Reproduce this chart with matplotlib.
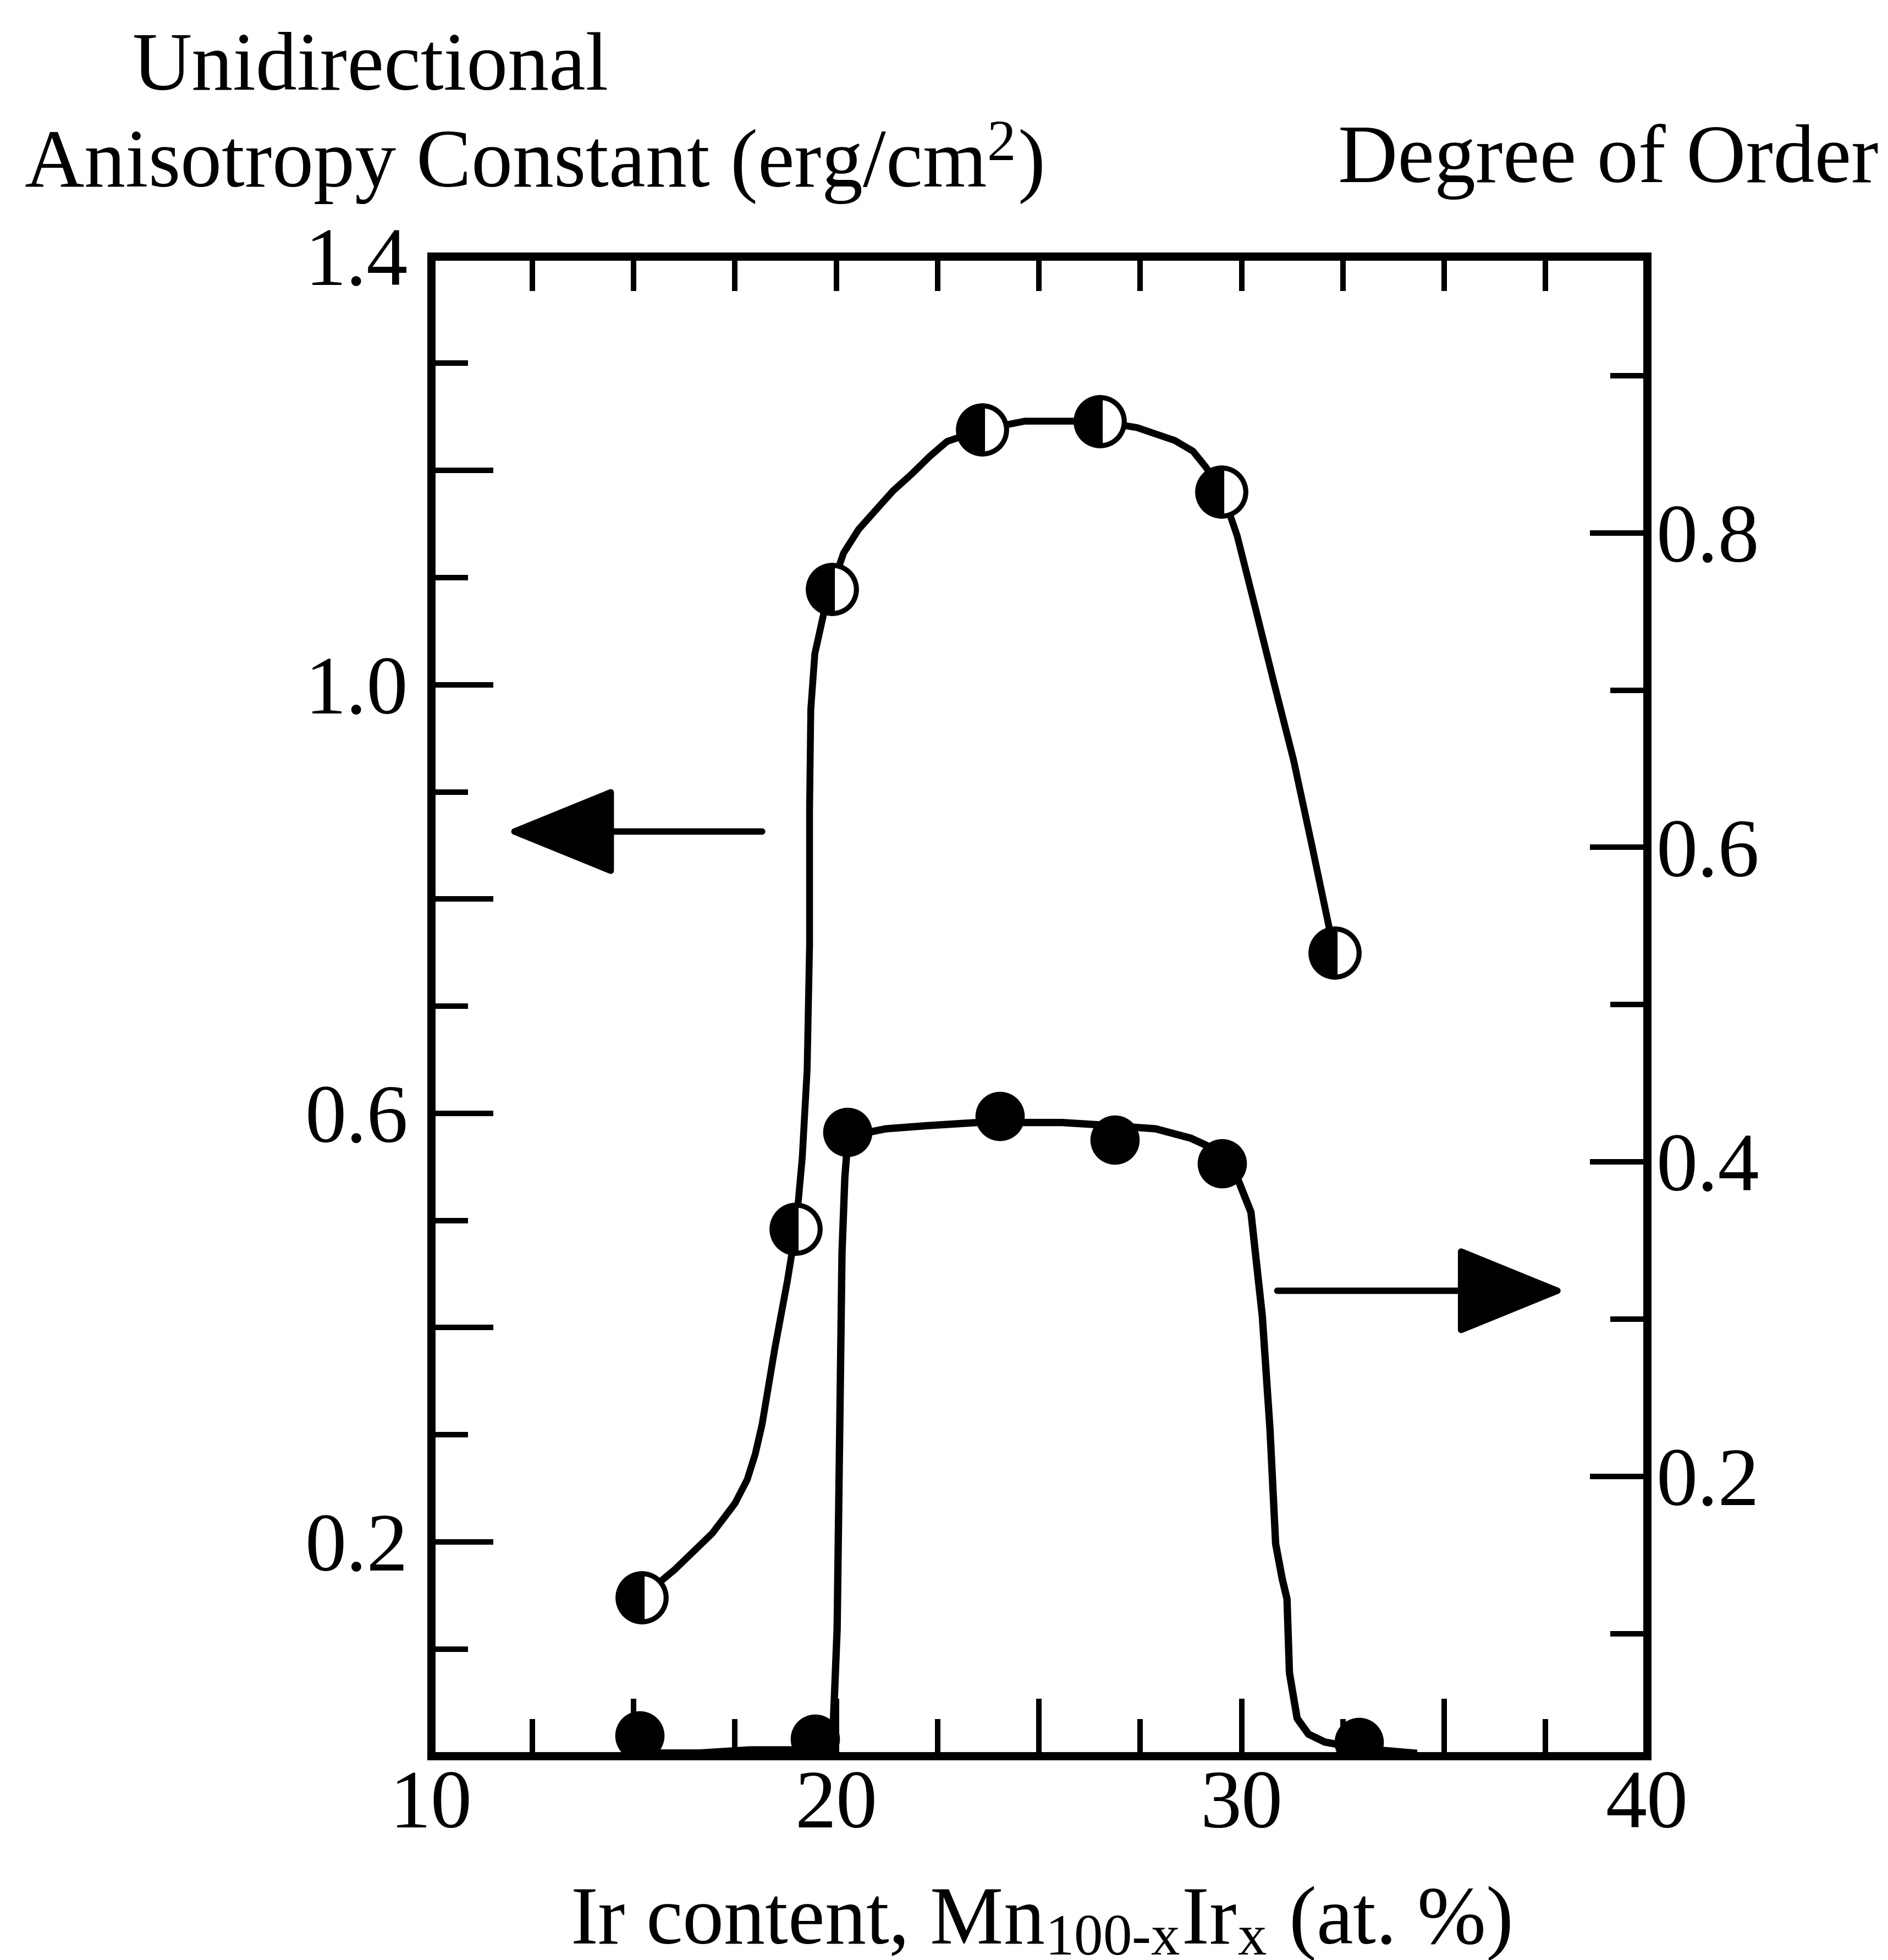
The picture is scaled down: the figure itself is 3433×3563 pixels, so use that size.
"""
Unidirectional anisotropy constant and degree of order vs Ir content
in Mn(100-x)Ir(x) films.
"""
import numpy as np
import matplotlib
matplotlib.use("Agg")
import matplotlib.pyplot as plt

# ---- data ----
# unidirectional anisotropy constant (erg/cm^2), half-filled circles, left axis
jk_x = [15.2, 19.0, 19.9, 23.6, 26.5, 29.5, 32.3]
jk_y = [0.148, 0.492, 1.089, 1.238, 1.246, 1.180, 0.750]
# hand-drawn guide line through them
jk_line_x = [15.18, 16.01, 16.94, 17.50, 17.80, 18.00, 18.17, 18.48, 18.79, 19.00,
             19.16, 19.28, 19.34, 19.34, 19.37, 19.47, 19.71, 19.87, 20.18, 20.55,
             20.95, 21.40, 21.87, 22.30, 22.73, 23.57, 24.65, 26.44, 27.42, 28.35,
             28.80, 29.12, 29.52, 29.89, 30.35, 30.81, 31.28, 31.74, 32.29]
jk_line_y = [0.148, 0.174, 0.208, 0.236, 0.258, 0.282, 0.310, 0.380, 0.443, 0.492,
             0.559, 0.641, 0.757, 0.884, 0.977, 1.029, 1.070, 1.089, 1.123, 1.145,
             1.162, 1.181, 1.197, 1.213, 1.227, 1.238, 1.246, 1.246, 1.240, 1.228,
             1.218, 1.203, 1.180, 1.139, 1.070, 1.000, 0.930, 0.849, 0.750]

# degree of order, filled circles, right axis
order_x = [15.15, 19.47, 20.27, 24.03, 26.87, 29.52, 32.9]
order_y = [0.035, 0.033, 0.419, 0.429, 0.414, 0.399, 0.031]
order_line_x = [15.15, 16.63, 17.86, 19.10, 19.71, 19.93, 20.02, 20.08, 20.14, 20.21,
                20.27, 20.64, 21.22, 22.24, 23.48, 25.57, 26.81, 27.88, 28.75, 29.42,
                29.70, 29.89, 30.23, 30.51, 30.70, 30.84, 31.00, 31.12, 31.18, 31.37,
                31.65, 32.05, 32.88, 34.24]
order_line_y = [0.024, 0.024, 0.026, 0.026, 0.030, 0.045, 0.103, 0.222, 0.342, 0.390,
                0.410, 0.418, 0.421, 0.423, 0.425, 0.425, 0.423, 0.421, 0.415, 0.407,
                0.400, 0.390, 0.368, 0.302, 0.230, 0.157, 0.135, 0.122, 0.075, 0.046,
                0.036, 0.031, 0.027, 0.024]

# ticks
x_major = [10, 15, 20, 25, 30, 35, 40]
x_labels = ["10", "", "20", "", "30", "", "40"]
x_minor = [12.5, 17.5, 22.5, 27.5, 32.5, 37.5]
x_top = [12.5, 15, 17.5, 20, 22.5, 25, 27.5, 30, 32.5, 35, 37.5]
left_major = [0.0, 0.2, 0.4, 0.6, 0.8, 1.0, 1.2, 1.4]
left_labels = ["", "0.2", "", "0.6", "", "1.0", "", "1.4"]
left_minor = [0.1, 0.3, 0.5, 0.7, 0.9, 1.1, 1.3]
right_major = [0.2, 0.4, 0.6, 0.8]
right_labels = ["0.2", "0.4", "0.6", "0.8"]
right_minor = [0.1, 0.3, 0.5, 0.7, 0.9]

plt.rcParams["font.family"] = ["Liberation Serif", "DejaVu Serif"]
plt.rcParams["mathtext.fontset"] = "custom"
plt.rcParams["mathtext.rm"] = "Liberation Serif"
plt.rcParams["mathtext.it"] = "Liberation Serif:italic"
FS = 36

fig = plt.figure(figsize=(3433 / 300, 3563 / 300), dpi=300)
ax = fig.add_axes([0.2283, 0.104, 0.644, 0.7653])
ax2 = ax.twinx()

ax.set_xlim(10, 40)
ax.set_ylim(0, 1.4)
ax2.set_ylim(0.022, 0.976)

for a in (ax, ax2):
    for s in a.spines.values():
        s.set_linewidth(3.5)

# curves
ax.plot(jk_line_x, jk_line_y, color="black", lw=3.0, zorder=2,
        solid_joinstyle="round")
ax.plot(jk_x, jk_y, ls="none", marker="o", ms=21, fillstyle="left",
        markerfacecolor="black", markerfacecoloralt="white",
        markeredgecolor="black", markeredgewidth=2.2, zorder=3)
ax2.plot(order_line_x, order_line_y, color="black", lw=3.2, zorder=2,
         solid_joinstyle="round")
ax2.plot(order_x, order_y, ls="none", marker="o", ms=20.5,
         color="black", zorder=3)

# arrows
ax.annotate("", xy=(11.85, 0.863), xytext=(18.17, 0.863),
            arrowprops=dict(arrowstyle="-|>,head_length=1.4,head_width=0.57",
                            mutation_scale=30, lw=2.8, color="black",
                            shrinkA=0, shrinkB=0))
ax2.annotate("", xy=(38.0, 0.318), xytext=(30.88, 0.318),
             arrowprops=dict(arrowstyle="-|>,head_length=1.4,head_width=0.57",
                             mutation_scale=30, lw=2.8, color="black",
                             shrinkA=0, shrinkB=0))

# x ticks
ax.set_xticks(x_major)
ax.set_xticklabels(x_labels, fontsize=FS)
ax.set_xticks(x_minor, minor=True)
ax.tick_params(axis="x", which="major", direction="in", length=25, width=2.4,
               pad=6, top=False)
ax.tick_params(axis="x", which="minor", direction="in", length=16, width=2.4,
               top=False)
top = ax.secondary_xaxis("top")
top.set_xticks(x_top)
top.tick_params(direction="in", length=15, width=2.4, labeltop=False)
top.spines["top"].set_linewidth(3.5)

# left y ticks
ax.set_yticks(left_major)
ax.set_yticklabels(left_labels, fontsize=FS)
ax.set_yticks(left_minor, minor=True)
ax.tick_params(axis="y", which="major", direction="in", length=27, width=2.4,
               pad=10, right=False)
ax.tick_params(axis="y", which="minor", direction="in", length=16, width=2.4,
               right=False)

# right y ticks
ax2.set_yticks(right_major)
ax2.set_yticklabels(right_labels, fontsize=FS)
ax2.set_yticks(right_minor, minor=True)
ax2.tick_params(axis="y", which="major", direction="in", length=25, width=2.4, pad=4)
ax2.tick_params(axis="y", which="minor", direction="in", length=16, width=2.4)

# axis titles
fig.text(0.0702, 0.9543, "Unidirectional", fontsize=FS, ha="left", va="baseline")
fig.text(0.0128, 0.905, "Anisotropy Constant (erg/cm$^{2}$)", fontsize=FS,
         ha="left", va="baseline")
fig.text(0.995, 0.907, "Degree of Order", fontsize=FS, ha="right", va="baseline")
fig.text(0.551, 0.0084, "Ir content, Mn$_{\\mathrm{100\\text{-}x}}$Ir$_{\\mathrm{x}}$ (at. %)",
         fontsize=FS, ha="center", va="baseline")

fig.savefig("out.png", dpi=300)
